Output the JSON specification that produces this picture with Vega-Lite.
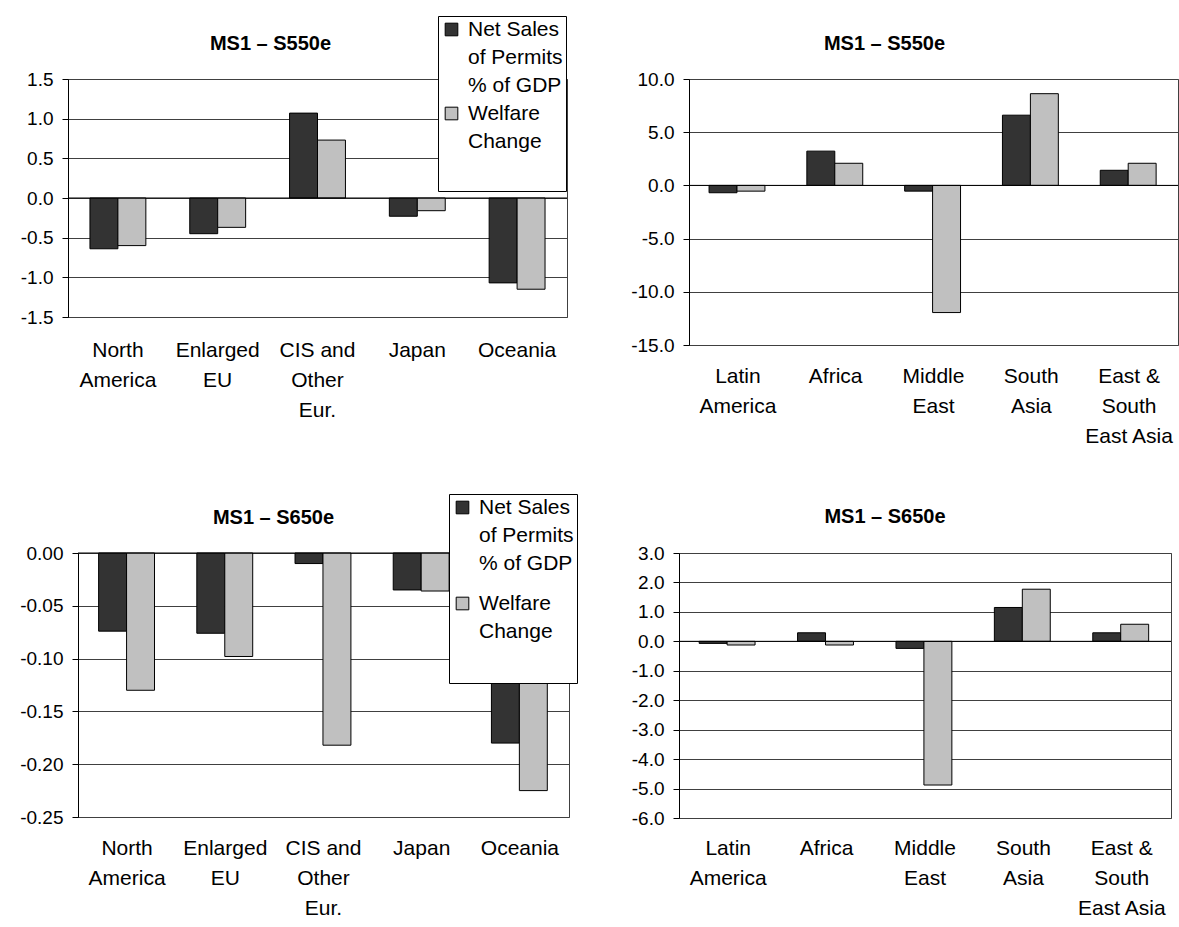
{
  "$schema": "https://vega.github.io/schema/vega-lite/v6.json",
  "padding": {"left": 18, "top": 15, "right": 0, "bottom": 0},
  "background": "#ffffff",
  "config": {
    "font": "Liberation Sans",
    "view": {"stroke": "#404040"},
    "style": {"guide-label": {"font": "Liberation Sans", "lineHeight": 28, "fill": "#000"}},
    "title": {"font": "Liberation Sans", "fontSize": 20, "fontWeight": "bold", "color": "#000", "anchor": "middle", "frame": "group"},
    "axisX": {"labelAngle": 0, "ticks": false, "domain": false, "grid": false, "labelFontSize": 21, "labelLineHeight": 30, "labelPadding": 20, "labelBaseline": "top", "labelColor": "#000", "labelLimit": 0, "title": null},
    "axisY": {"labelFontSize": 19, "tickSize": 6, "labelPadding": 9, "tickColor": "#000", "domainColor": "#000", "gridColor": "#404040", "labelColor": "#000", "grid": true, "title": null, "labelOverlap": false, "labelBound": false, "tickCount": 30},
    "legend": {"labelFontSize": 21, "labelColor": "#000", "symbolType": "square", "symbolSize": 160, "symbolStrokeColor": "#000", "symbolStrokeWidth": 1, "labelOffset": 6, "padding": 3, "fillColor": "#ffffff", "strokeColor": "#000", "labelLimit": 0, "titleFontSize": 21, "titleOrient": "bottom"}
  },
  "datasets": {
    "s550dev": [
      {"region": "North America", "series": "Net Sales of Permits % of GDP", "value": -0.64},
      {"region": "North America", "series": "Welfare Change", "value": -0.6},
      {"region": "Enlarged EU", "series": "Net Sales of Permits % of GDP", "value": -0.45},
      {"region": "Enlarged EU", "series": "Welfare Change", "value": -0.37},
      {"region": "CIS and Other Eur.", "series": "Net Sales of Permits % of GDP", "value": 1.07},
      {"region": "CIS and Other Eur.", "series": "Welfare Change", "value": 0.73},
      {"region": "Japan", "series": "Net Sales of Permits % of GDP", "value": -0.23},
      {"region": "Japan", "series": "Welfare Change", "value": -0.16},
      {"region": "Oceania", "series": "Net Sales of Permits % of GDP", "value": -1.07},
      {"region": "Oceania", "series": "Welfare Change", "value": -1.15}
    ],
    "s550ing": [
      {"region": "Latin America", "series": "Net Sales of Permits % of GDP", "value": -0.69},
      {"region": "Latin America", "series": "Welfare Change", "value": -0.54},
      {"region": "Africa", "series": "Net Sales of Permits % of GDP", "value": 3.22},
      {"region": "Africa", "series": "Welfare Change", "value": 2.08},
      {"region": "Middle East", "series": "Net Sales of Permits % of GDP", "value": -0.54},
      {"region": "Middle East", "series": "Welfare Change", "value": -11.95},
      {"region": "South Asia", "series": "Net Sales of Permits % of GDP", "value": 6.6},
      {"region": "South Asia", "series": "Welfare Change", "value": 8.62},
      {"region": "East & South East Asia", "series": "Net Sales of Permits % of GDP", "value": 1.42},
      {"region": "East & South East Asia", "series": "Welfare Change", "value": 2.08}
    ],
    "s650dev": [
      {"region": "North America", "series": "Net Sales of Permits % of GDP", "value": -0.074},
      {"region": "North America", "series": "Welfare Change", "value": -0.13},
      {"region": "Enlarged EU", "series": "Net Sales of Permits % of GDP", "value": -0.076},
      {"region": "Enlarged EU", "series": "Welfare Change", "value": -0.098},
      {"region": "CIS and Other Eur.", "series": "Net Sales of Permits % of GDP", "value": -0.01},
      {"region": "CIS and Other Eur.", "series": "Welfare Change", "value": -0.182},
      {"region": "Japan", "series": "Net Sales of Permits % of GDP", "value": -0.035},
      {"region": "Japan", "series": "Welfare Change", "value": -0.036},
      {"region": "Oceania", "series": "Net Sales of Permits % of GDP", "value": -0.18},
      {"region": "Oceania", "series": "Welfare Change", "value": -0.225}
    ],
    "s650ing": [
      {"region": "Latin America", "series": "Net Sales of Permits % of GDP", "value": -0.07},
      {"region": "Latin America", "series": "Welfare Change", "value": -0.125},
      {"region": "Africa", "series": "Net Sales of Permits % of GDP", "value": 0.29},
      {"region": "Africa", "series": "Welfare Change", "value": -0.125},
      {"region": "Middle East", "series": "Net Sales of Permits % of GDP", "value": -0.24},
      {"region": "Middle East", "series": "Welfare Change", "value": -4.88},
      {"region": "South Asia", "series": "Net Sales of Permits % of GDP", "value": 1.15},
      {"region": "South Asia", "series": "Welfare Change", "value": 1.77},
      {"region": "East & South East Asia", "series": "Net Sales of Permits % of GDP", "value": 0.29},
      {"region": "East & South East Asia", "series": "Welfare Change", "value": 0.58}
    ]
  },
  "resolve": {"scale": {"color": "independent"}, "legend": {"color": "independent"}},
  "columns": 3,
  "align": {"row": "each", "column": "none"},
  "spacing": {"row": 46, "column": 0},
  "concat": [
    {
      "width": 1, "height": 1,
      "data": {"values": [{}]},
      "mark": {"type": "point", "opacity": 0, "size": 1},
      "encoding": {},
      "view": {"stroke": null}
    },
    {
      "width": 499, "height": 238,
      "title": {"text": "MS1 – S550e", "dx": -47, "offset": -38},
      "data": {"name": "s550dev"},
      "layer": [
        {
          "mark": {"type": "bar", "stroke": "#000", "strokeWidth": 1},
          "encoding": {
            "x": {"field": "region", "type": "nominal", "sort": null, "scale": {"paddingInner": 0.44, "paddingOuter": 0.22},
                  "axis": {"labelPadding": 22, "labelExpr": "datum.label == 'CIS and Other Eur.' ? ['CIS and','Other','Eur.'] : split(datum.label, ' ')"}},
            "xOffset": {"field": "series", "type": "nominal", "sort": null},
            "y": {"field": "value", "type": "quantitative", "scale": {"domain": [-1.5, 1.5], "nice": false, "zero": false},
                  "axis": {"values": [-1.5, -1, -0.5, 0, 0.5, 1, 1.5], "tickCount": 30, "labelOverlap": false, "labelExpr": "replace(format(datum.value, '.1f'), '\u2212', '-')"}},
            "color": {"field": "series", "type": "nominal", "sort": null,
                      "scale": {"domain": ["Net Sales of Permits % of GDP", "Welfare Change"], "range": ["#333333", "#c0c0c0"]},
                      "legend": {"orient": "none", "legendX": 370, "legendY": -63, "title": " ", "titlePadding": 15, "rowPadding": 6,
                                 "labelExpr": "datum.label == 'Welfare Change' ? ['Welfare','Change'] : ['Net Sales','of Permits','% of GDP']"}}
          }
        },
        {
          "data": {"values": [{}]},
          "mark": {"type": "rule", "color": "#000", "strokeWidth": 1},
          "encoding": {"y": {"datum": 0}}
        }
      ]
    },
    {
      "width": 489, "height": 266,
      "title": {"text": "MS1 – S550e", "dx": -49, "offset": 16},
      "data": {"name": "s550ing"},
      "layer": [
        {
          "mark": {"type": "bar", "stroke": "#000", "strokeWidth": 1},
          "encoding": {
            "x": {"field": "region", "type": "nominal", "sort": null, "scale": {"paddingInner": 0.41, "paddingOuter": 0.205},
                  "axis": {"labelPadding": 20, "labelExpr": "datum.label == 'East & South East Asia' ? ['East &','South','East Asia'] : split(datum.label, ' ')"}},
            "xOffset": {"field": "series", "type": "nominal", "sort": null},
            "y": {"field": "value", "type": "quantitative", "scale": {"domain": [-15, 10], "nice": false, "zero": false},
                  "axis": {"values": [-15, -10, -5, 0, 5, 10], "tickCount": 30, "minExtent": 120, "labelOverlap": false, "labelExpr": "replace(format(datum.value, '.1f'), '\u2212', '-')"}},
            "color": {"field": "series", "type": "nominal", "sort": null,
                      "scale": {"domain": ["Net Sales of Permits % of GDP", "Welfare Change"], "range": ["#333333", "#c0c0c0"]},
                      "legend": null}
          }
        },
        {
          "data": {"values": [{}]},
          "mark": {"type": "rule", "color": "#000", "strokeWidth": 1},
          "encoding": {"y": {"datum": 0}}
        }
      ]
    },
    {
      "width": 1, "height": 1,
      "data": {"values": [{}]},
      "mark": {"type": "point", "opacity": 0, "size": 1},
      "encoding": {},
      "view": {"stroke": null}
    },
    {
      "width": 491, "height": 264,
      "title": {"text": "MS1 – S650e", "dx": -50, "offset": -34},
      "data": {"name": "s650dev"},
      "layer": [
        {
          "mark": {"type": "bar", "stroke": "#000", "strokeWidth": 1},
          "encoding": {
            "x": {"field": "region", "type": "nominal", "sort": null, "scale": {"paddingInner": 0.42, "paddingOuter": 0.21},
                  "axis": {"labelPadding": 20, "labelExpr": "datum.label == 'CIS and Other Eur.' ? ['CIS and','Other','Eur.'] : split(datum.label, ' ')"}},
            "xOffset": {"field": "series", "type": "nominal", "sort": null},
            "y": {"field": "value", "type": "quantitative", "scale": {"domain": [-0.25, 0], "nice": false, "zero": false},
                  "axis": {"values": [-0.25, -0.2, -0.15, -0.1, -0.05, 0], "tickCount": 30, "labelOverlap": false, "labelExpr": "replace(format(datum.value, '.2f'), '\u2212', '-')"}},
            "color": {"field": "series", "type": "nominal", "sort": null,
                      "scale": {"domain": ["Net Sales of Permits % of GDP", "Welfare Change"], "range": ["#333333", "#c0c0c0"]},
                      "legend": {"orient": "none", "legendX": 371, "legendY": -59, "title": " ", "titlePadding": 17, "rowPadding": 18,
                                 "labelExpr": "datum.label == 'Welfare Change' ? ['Welfare','Change'] : ['Net Sales','of Permits','% of GDP']"}}
          }
        },
        {
          "data": {"values": [{}]},
          "mark": {"type": "rule", "color": "#000", "strokeWidth": 1},
          "encoding": {"y": {"datum": 0}}
        }
      ]
    },
    {
      "width": 492, "height": 265,
      "title": {"text": "MS1 – S650e", "dx": -40, "offset": 17},
      "data": {"name": "s650ing"},
      "layer": [
        {
          "mark": {"type": "bar", "stroke": "#000", "strokeWidth": 1},
          "encoding": {
            "x": {"field": "region", "type": "nominal", "sort": null, "scale": {"paddingInner": 0.41, "paddingOuter": 0.205},
                  "axis": {"labelPadding": 19, "labelExpr": "datum.label == 'East & South East Asia' ? ['East &','South','East Asia'] : split(datum.label, ' ')"}},
            "xOffset": {"field": "series", "type": "nominal", "sort": null},
            "y": {"field": "value", "type": "quantitative", "scale": {"domain": [-6, 3], "nice": false, "zero": false},
                  "axis": {"values": [-6, -5, -4, -3, -2, -1, 0, 1, 2, 3], "tickCount": 30, "minExtent": 100, "labelOverlap": false, "labelExpr": "replace(format(datum.value, '.1f'), '\u2212', '-')"}},
            "color": {"field": "series", "type": "nominal", "sort": null,
                      "scale": {"domain": ["Net Sales of Permits % of GDP", "Welfare Change"], "range": ["#333333", "#c0c0c0"]},
                      "legend": null}
          }
        },
        {
          "data": {"values": [{}]},
          "mark": {"type": "rule", "color": "#000", "strokeWidth": 1},
          "encoding": {"y": {"datum": 0}}
        }
      ]
    }
  ]
}
